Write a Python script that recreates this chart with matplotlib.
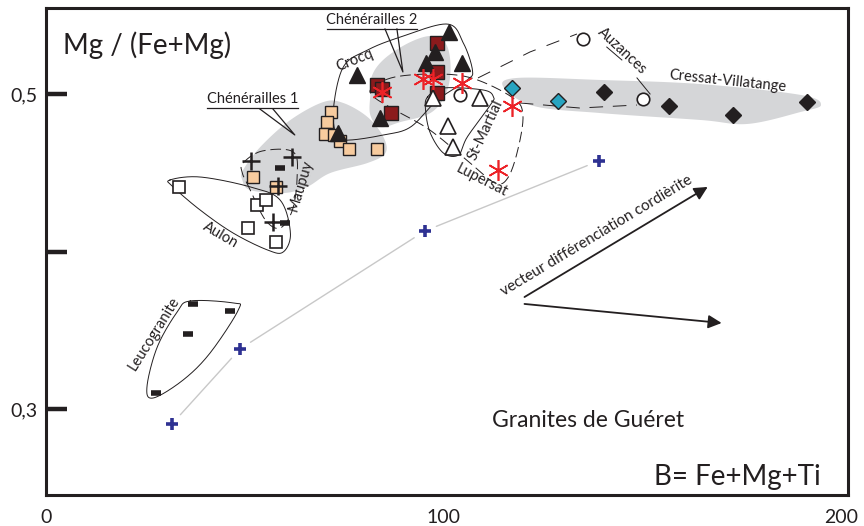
import numpy as np
import matplotlib
matplotlib.use("Agg")
import matplotlib.pyplot as plt

plt.rcParams["font.family"] = ["Lato", "DejaVu Sans"]

# --- data (B = Fe+Mg+Ti, Mg/(Fe+Mg)) ---
blue_x = [31.7, 48.8, 95.3, 139.1]
blue_y = [0.2905, 0.3381, 0.4130, 0.4575]

leuco_x = [36.9, 46.2, 35.7, 27.7]
leuco_y = [0.3667, 0.3622, 0.3476, 0.3102]

aulon_x = [33.5, 53.1, 55.3, 50.8, 57.9]
aulon_y = [0.4410, 0.4295, 0.4327, 0.4149, 0.4060]

maupuy_plus_x = [51.5, 61.8, 58.4, 57.0]
maupuy_plus_y = [0.4575, 0.4598, 0.4416, 0.4189]
maupuy_dash_x = [58.9, 60.1]
maupuy_dash_y = [0.4528, 0.4179]

chen1_x = [71.7, 70.7, 70.2, 72.5, 74.0, 76.2, 83.3, 52.1, 57.9]
chen1_y = [0.4886, 0.4822, 0.4746, 0.4740, 0.4702, 0.4651, 0.4651, 0.4473, 0.4410]

crocq_x = [101.4, 97.9, 95.6, 104.6, 78.2, 84.0, 73.5]
crocq_y = [0.5396, 0.5269, 0.5195, 0.5195, 0.5121, 0.4846, 0.4750]

chen2_x = [98.3, 98.3, 83.2, 84.5, 98.3, 86.7]
chen2_y = [0.5322, 0.5142, 0.5057, 0.5030, 0.5004, 0.4881]

lupersat_x = [84.5, 94.9, 97.4, 104.6, 117.2, 113.8]
lupersat_y = [0.5015, 0.5095, 0.5095, 0.5072, 0.4924, 0.4517]

stmartial_x = [97.4, 109.2, 101.2, 102.5]
stmartial_y = [0.4973, 0.4973, 0.4797, 0.4665]

auzances_x = [104.2, 135.2, 150.3]
auzances_y = [0.4994, 0.5347, 0.4968]

cyan_x = [117.3, 128.9]
cyan_y = [0.5040, 0.4956]

cressat_x = [140.5, 156.7, 172.9, 191.4]
cressat_y = [0.5015, 0.4924, 0.4867, 0.4951]

K = 396.0  # y stretch so shapes are smoothed in screen-like units


def smooth_closed(pts, n=24):
    p = np.array(pts, dtype=float)
    p[:, 1] *= K
    m = len(p)
    out = []
    t = np.linspace(0, 1, n, endpoint=False)[:, None]
    for i in range(m):
        p0, p1, p2, p3 = p[i - 1], p[i], p[(i + 1) % m], p[(i + 2) % m]
        c = 0.5 * ((2 * p1) + (-p0 + p2) * t + (2 * p0 - 5 * p1 + 4 * p2 - p3) * t ** 2
                   + (-p0 + 3 * p1 - 3 * p2 + p3) * t ** 3)
        out.append(c)
    out = np.vstack(out + [out[0][:1]])
    return out[:, 0], out[:, 1] / K


fig = plt.figure(figsize=(8.64, 5.26), dpi=100)
ax = fig.add_axes([46 / 864, 31 / 526, 802 / 864, 487 / 526])
ink = "#231f20"
grey = "#d5d6d8"

# grey fields
shapes_fill = [
    [(49.6, 0.4517), (53.9, 0.4663), (61.5, 0.4835), (69.8, 0.4949), (74.8, 0.4943), (80.9, 0.4854),
     (84.9, 0.4727), (85.4, 0.4625), (80.9, 0.4562), (71.5, 0.4498), (65.7, 0.4410), (59.7, 0.4371),
     (51.4, 0.4390), (49.4, 0.4454)],
    [(82.1, 0.5121), (85.4, 0.5229), (91.7, 0.5330), (97.2, 0.5368), (100.8, 0.5311), (101.8, 0.5152),
     (100.5, 0.4994), (96.7, 0.4879), (89.2, 0.4822), (84.1, 0.4790), (81.6, 0.4867), (81.6, 0.4994)],
    [(115.1, 0.5044), (118.6, 0.5102), (139.5, 0.5089), (164.7, 0.5063), (189.9, 0.4994), (195.0, 0.4930),
     (189.9, 0.4886), (176.6, 0.4810), (164.7, 0.4835), (139.5, 0.4879), (122.7, 0.4924)],
]
for s in shapes_fill:
    xs, ys = smooth_closed(s)
    ax.fill(xs, ys, color=grey, lw=0, zorder=1)

# envelopes
solid_env = [
    [(31.2, 0.4454), (38.8, 0.4473), (51.4, 0.4410), (58.9, 0.4327), (61.5, 0.4117), (59.7, 0.3997),
     (55.7, 0.4010), (47.1, 0.4117), (38.8, 0.4263), (32.0, 0.4410)],
    [(36.3, 0.3686), (47.1, 0.3673), (48.4, 0.3629), (41.3, 0.3356), (34.5, 0.3184), (27.0, 0.3070),
     (25.4, 0.3140), (28.0, 0.3394), (33.0, 0.3616)],
    [(73.3, 0.4727), (72.3, 0.4898), (74.8, 0.5171), (80.9, 0.5279), (89.2, 0.5362), (101.0, 0.5444),
     (105.0, 0.5324), (107.3, 0.5152), (106.0, 0.5089), (98.5, 0.4962), (91.7, 0.4790), (84.9, 0.4740),
     (76.6, 0.4708)],
    [(96.0, 0.4981), (100.0, 0.5038), (110.1, 0.5025), (112.6, 0.4981), (111.8, 0.4930), (106.0, 0.4727),
     (103.8, 0.4613), (100.0, 0.4625), (96.7, 0.4752), (95.5, 0.4898)],
]
for s in solid_env:
    xs, ys = smooth_closed(s)
    ax.plot(xs, ys, color=ink, lw=0.7, zorder=2)

dashed_env = [
    [(49.6, 0.4562), (54.4, 0.4638), (62.2, 0.4632), (63.2, 0.4473), (62.0, 0.4263), (58.9, 0.4149),
     (55.2, 0.4200), (51.4, 0.4390), (49.4, 0.4498)],
    [(82.0, 0.5038), (87.8, 0.5108), (99.1, 0.5127), (107.9, 0.5095), (117.5, 0.4975), (120.0, 0.4867),
     (118.7, 0.4644), (116.2, 0.4467), (113.0, 0.4435), (106.7, 0.4562), (96.6, 0.4771), (87.8, 0.4898),
     (82.5, 0.4981)],
]
for s in dashed_env:
    xs, ys = smooth_closed(s)
    ax.plot(xs, ys, color=ink, lw=0.7, ls=(0, (11, 5)), zorder=2)

# Auzances open envelope
ax.plot([108.7, 121.8, 133.6], [0.5102, 0.5267, 0.5381], color=ink, lw=0.7, ls=(0, (14, 12)), zorder=2)
ax.plot([119.2, 134.3, 148.7], [0.4943, 0.4911, 0.4930], color=ink, lw=0.7, ls=(0, (14, 10)), zorder=2)
ax.plot([148.7, 152.0], [0.5102, 0.5000], color=ink, lw=0.7, zorder=2)
ax.plot([141.1, 144.9], [0.5298, 0.5216], color=ink, lw=0.7, zorder=2)

# callouts
ax.plot([40.5, 63.4], [0.4911, 0.4911], color=ink, lw=0.9, zorder=2)
ax.plot([53.8, 62.6, 57.1], [0.4905, 0.4740, 0.4905], color=ink, lw=0.9, zorder=2)
ax.plot([70.7, 93.3], [0.5413, 0.5413], color=ink, lw=0.9, zorder=2)
ax.plot([85.3, 89.8, 88.3], [0.5413, 0.5140, 0.5413], color=ink, lw=0.9, zorder=2)

# blue trend with gaps at the points
for i in range(len(blue_x) - 1):
    ax.annotate("", xy=(blue_x[i + 1], blue_y[i + 1]), xytext=(blue_x[i], blue_y[i]),
                arrowprops=dict(arrowstyle="-", color="#c8c8c8", lw=1.0, shrinkA=9, shrinkB=9), zorder=2)

# markers
ax.plot(blue_x, blue_y, ls="none", marker="+", ms=9, mew=2.6, color="#2e3192", zorder=5)
ax.plot(leuco_x, leuco_y, ls="none", marker="_", ms=7, mew=4, color=ink, zorder=5)
ax.plot(aulon_x, aulon_y, ls="none", marker="s", ms=9, mew=1.2, mfc="white", mec=ink, zorder=5)
ax.plot(chen1_x, chen1_y, ls="none", marker="s", ms=9, mew=1.0, mfc="#f7cb9e", mec=ink, zorder=5)
ax.plot(maupuy_plus_x, maupuy_plus_y, ls="none", marker="+", ms=13, mew=1.8, color=ink, zorder=6)
ax.plot(maupuy_dash_x, maupuy_dash_y, ls="none", marker="_", ms=7, mew=4, color=ink, zorder=6)
ax.plot(chen2_x, chen2_y, ls="none", marker="s", ms=9.5, mew=1.0, mfc="#8b1a1c", mec=ink, zorder=5)
ax.plot(crocq_x, crocq_y, ls="none", marker="^", ms=12, color=ink, zorder=6)
ax.plot(stmartial_x, stmartial_y, ls="none", marker="^", ms=12, mew=1.2, mfc="white", mec=ink, zorder=6)
ax.plot(auzances_x, auzances_y, ls="none", marker="o", ms=9, mew=1.2, mfc="white", mec=ink, zorder=6)
ax.plot(cyan_x, cyan_y, ls="none", marker="D", ms=8.5, mew=1.0, mfc="#27a4c0", mec=ink, zorder=6)
ax.plot(cressat_x, cressat_y, ls="none", marker="D", ms=8.5, color=ink, zorder=6)
ax.plot(lupersat_x, lupersat_y, ls="none", marker=(6, 2, 0), ms=15, mew=1.2, color="#ec2227", zorder=7)

# arrows
ax.annotate("", xy=(166.5, 0.4410), xytext=(120.4, 0.3711),
            arrowprops=dict(arrowstyle="-|>", color=ink, lw=1.3, mutation_scale=20, shrinkA=0, shrinkB=0))
ax.annotate("", xy=(170.0, 0.3546), xytext=(120.4, 0.3667),
            arrowprops=dict(arrowstyle="-|>", color=ink, lw=1.3, mutation_scale=20, shrinkA=0, shrinkB=0))

# labels
lab = dict(fontsize=10.5, color=ink, ha="center", va="center", rotation_mode="anchor", zorder=8)
ax.text(77.7, 0.5216, "Crocq", rotation=22, **lab)
ax.text(64.2, 0.4416, "Maupuy", rotation=73, **lab)
ax.text(43.8, 0.4105, "Aulon", rotation=-30, **lab)
ax.text(110.6, 0.4771, "St-Martial", rotation=65, **lab)
ax.text(109.7, 0.4450, "Lupersat", rotation=-27, **lab)
ax.text(144.9, 0.5273, "Auzances", rotation=-43, **lab)
ax.text(171.6, 0.5083, "Cressat-Villatange", rotation=-6, **lab)
ax.text(27.2, 0.3476, "Leucogranite", rotation=58, **lab)
ax.text(138.6, 0.4098, "vecteur différenciation cordièrite", rotation=31, fontsize=11,
        color=ink, ha="center", va="center", rotation_mode="anchor", zorder=8)
ax.text(52.1, 0.4925, "Chénérailles 1", fontsize=10.5, color=ink, ha="center", va="bottom")
ax.text(82.0, 0.5427, "Chénérailles 2", fontsize=10.5, color=ink, ha="center", va="bottom")

ax.text(4.3, 0.5311, "Mg / (Fe+Mg)", fontsize=20, color=ink, ha="left", va="center")
ax.text(153.0, 0.2568, "B= Fe+Mg+Ti", fontsize=20, color=ink, ha="left", va="center")
ax.text(112.2, 0.2930, "Granites de Guéret", fontsize=16.5, color=ink, ha="left", va="center")

# axes
ax.set_xlim(0, 201.8)
ax.set_ylim(0.2454, 0.5546)
for sp in ax.spines.values():
    sp.set_linewidth(2.2)
    sp.set_color(ink)

ax.set_xticks([0, 100, 200])
ax.set_xticklabels(["0", "100", "200"])
ax.set_xticks([100], minor=True)
ax.tick_params(axis="x", which="major", length=0, pad=10, labelsize=14, colors=ink)
ax.tick_params(axis="x", which="minor", direction="in", length=19, width=1.6, color=ink)
ax.set_yticks([0.3, 0.4, 0.5])
ax.set_yticklabels(["0,3", "", "0,5"])
ax.tick_params(axis="y", direction="in", length=15, width=3.2, pad=6, labelsize=14, colors=ink)

fig.savefig("out.png", dpi=100)
